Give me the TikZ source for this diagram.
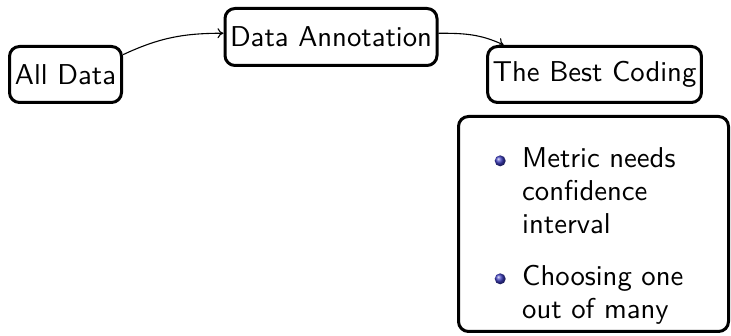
\documentclass[tikz,border=0pt]{standalone}
\usepackage{fontspec}
\setsansfont{lmsans10-regular.otf}
\usepackage{tikz}
\usetikzlibrary{arrows.meta}
\usepackage[dvipsnames]{xcolor}
\definecolor{ballcol}{RGB}{60,60,190}

\newcommand{\ballbullet}{\tikz[baseline=-0.5ex]\shade[ball color=ballcol] (0,0) circle (5.5pt);}

\begin{document}
\begin{tikzpicture}[x=1pt, y=1pt,
    stepbox/.style={draw, line width=3pt, rounded corners=10pt, inner xsep=5pt, minimum height=56pt,
        font=\sffamily\fontsize{28.7}{33}\selectfont},
    flow/.style={-{To[length=6pt, width=10pt]}, line width=1.1pt}]
    \useasboundingbox (0,0) rectangle (731,336);

    \node[stepbox, minimum width=112pt] (alldata) at (65.5, 261.5) {All Data};
    \node[stepbox, minimum height=57pt] (annot) at (331, 299) {Data Annotation};
    \node[stepbox] (best) at (594.5, 261.5) {The Best Coding};
    \node[stepbox, minimum width=270pt, minimum height=215pt] (notes) at (593.5, 112) {};

    \node[anchor=north west, inner sep=0pt, text width=215pt, align=left,
        font=\sffamily\fontsize{28.7}{33}\selectfont] (notetext) at (480, 202) {%
        \begin{list}{\ballbullet}{\setlength\leftmargin{42pt}\setlength\labelsep{16.5pt}%
            \setlength\itemsep{19pt}\setlength\parsep{0pt}\setlength\topsep{0pt}}
        \item Metric needs confidence interval
        \item Choosing one out of many
        \end{list}};

    \draw[flow] (alldata.19) to[out=25, in=180] (annot.178);
    \draw[flow] (annot.2) to[out=0, in=155] (best.162);

\end{tikzpicture}
\end{document}
